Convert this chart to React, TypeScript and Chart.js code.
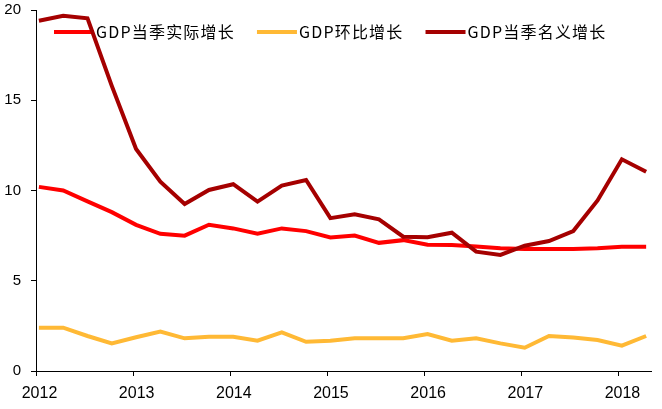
import React, { useEffect, useRef } from "react";
import { Chart, registerables } from "chart.js";

Chart.register(...registerables);

// Quarterly periods 2012Q1 .. 2018Q2
const quarters = [
  "2012Q1", "2012Q2", "2012Q3", "2012Q4",
  "2013Q1", "2013Q2", "2013Q3", "2013Q4",
  "2014Q1", "2014Q2", "2014Q3", "2014Q4",
  "2015Q1", "2015Q2", "2015Q3", "2015Q4",
  "2016Q1", "2016Q2", "2016Q3", "2016Q4",
  "2017Q1", "2017Q2", "2017Q3", "2017Q4",
  "2018Q1", "2018Q2",
];

const realGrowth = [
  10.2, 10.0, 9.4, 8.8, 8.1, 7.6, 7.5, 8.1, 7.9, 7.6, 7.9, 7.75, 7.4,
  7.5, 7.1, 7.25, 7.0, 6.98, 6.9, 6.8, 6.76, 6.76, 6.76, 6.8, 6.88, 6.88,
];

const qoqGrowth = [
  2.4, 2.4, 1.94, 1.53, 1.87, 2.18, 1.81, 1.9, 1.9, 1.68, 2.14, 1.62, 1.68,
  1.81, 1.81, 1.81, 2.05, 1.68, 1.81, 1.53, 1.29, 1.94, 1.85, 1.72, 1.4, 1.94,
];

const nominalGrowth = [
  19.4, 19.68, 19.54, 15.8, 12.3, 10.49, 9.25, 10.03, 10.35, 9.38, 10.27,
  10.58, 8.47, 8.68, 8.4, 7.44, 7.41, 7.66, 6.61, 6.43, 6.94, 7.2, 7.75,
  9.45, 11.73, 11.04,
];

const seriesNames = ["GDP当季实际增长", "GDP环比增长", "GDP当季名义增长"];
const seriesColors = ["#FF0000", "#FFB935", "#A50000"];

const yearLabels = ["2012", "2013", "2014", "2015", "2016", "2017", "2018"];
const yTicks = [0, 5, 10, 15, 20];

const firstYear = 2012;

function toPoints(values: number[]) {
  return values.map((v, i) => {
    const q = quarters[i];
    const year = parseInt(q.slice(0, 4), 10);
    const qi = parseInt(q.slice(5), 10) - 1;
    return { x: year + qi / 4 + 0.03, y: v };
  });
}

const legendPlugin = {
  id: "inlineLegend",
  beforeDatasetsDraw(chart: any) {
    const { ctx, chartArea } = chart;
    ctx.save();
    ctx.font = '16px "Noto Sans CJK SC", sans-serif';
    try {
      (ctx as any).letterSpacing = "1.2px";
    } catch (e) {}
    ctx.textBaseline = "middle";
    ctx.textAlign = "left";
    let x = chartArea.left + 18;
    const y = chartArea.top + 22;
    for (let i = 0; i < seriesNames.length; i++) {
      ctx.fillStyle = seriesColors[i];
      ctx.fillRect(x, y - 2, 40, 4);
      x += 42;
      ctx.fillStyle = "#000";
      ctx.fillText(seriesNames[i], x, y);
      x += ctx.measureText(seriesNames[i]).width + 22;
    }
    ctx.restore();
  },
};

export default function App() {
  const ref = useRef<HTMLCanvasElement | null>(null);

  useEffect(() => {
    if (!ref.current) return;
    const datasets = [
      {
        label: seriesNames[0],
        data: toPoints(realGrowth),
        borderColor: seriesColors[0],
        backgroundColor: seriesColors[0],
        order: 1,
      },
      {
        label: seriesNames[1],
        data: toPoints(qoqGrowth),
        borderColor: seriesColors[1],
        backgroundColor: seriesColors[1],
        order: 2,
      },
      {
        label: seriesNames[2],
        data: toPoints(nominalGrowth),
        borderColor: seriesColors[2],
        backgroundColor: seriesColors[2],
        order: 0,
      },
    ].map((d) => ({
      ...d,
      borderWidth: 4,
      pointRadius: 0,
      tension: 0,
      fill: false,
      borderJoinStyle: "miter" as const,
    }));

    const chart = new Chart(ref.current, {
      type: "line",
      data: { datasets },
      plugins: [legendPlugin],
      options: {
        responsive: false,
        animation: false,
        layout: { padding: { top: 10, right: 11, left: 0, bottom: 0 } },
        plugins: {
          legend: { display: false },
          tooltip: { enabled: false },
        },
        scales: {
          x: {
            type: "linear",
            min: firstYear,
            max: 2018.33,
            afterFit: (s: any) => {
              s.height = 38;
              s.paddingLeft = 0;
              s.paddingRight = 0;
            },
            afterBuildTicks: (s: any) => {
              s.ticks = yearLabels.map((l) => ({ value: parseInt(l, 10) }));
            },
            ticks: {
              includeBounds: false,
              autoSkip: false,
              maxRotation: 0,
              padding: 8,
              labelOffset: 3.5,
              color: "#000",
              font: { family: '"Liberation Sans Narrow", "Liberation Sans", Arial, sans-serif', size: 16 },
              callback: (v: any) => {
                const idx = yearLabels.indexOf(String(v));
                return idx >= 0 ? yearLabels[idx] : "";
              },
            },
            grid: {
              drawOnChartArea: false,
              drawTicks: true,
              tickLength: 5,
              color: "#000",
            },
            border: { display: true, color: "#000", width: 1 },
          },
          y: {
            min: 0,
            max: 20,
            afterFit: (s: any) => {
              s.width = 36;
              s.paddingTop = 0;
              s.paddingBottom = 0;
            },
            afterBuildTicks: (s: any) => {
              s.ticks = yTicks.map((v) => ({ value: v }));
            },
            ticks: {
              padding: 10,
              color: "#000",
              font: { family: '"Liberation Sans", Arial, sans-serif', size: 15 },
            },
            grid: {
              drawOnChartArea: false,
              drawTicks: true,
              tickLength: 5,
              color: "#000",
            },
            border: { display: true, color: "#000", width: 1 },
          },
        },
      },
    });
    return () => chart.destroy();
  }, []);

  return (
    <div style={{ position: "fixed", left: 0, top: 0, width: 662, height: 409, background: "#fff" }}>
      <canvas ref={ref} width={662} height={409} style={{ display: "block" }} />
    </div>
  );
}
